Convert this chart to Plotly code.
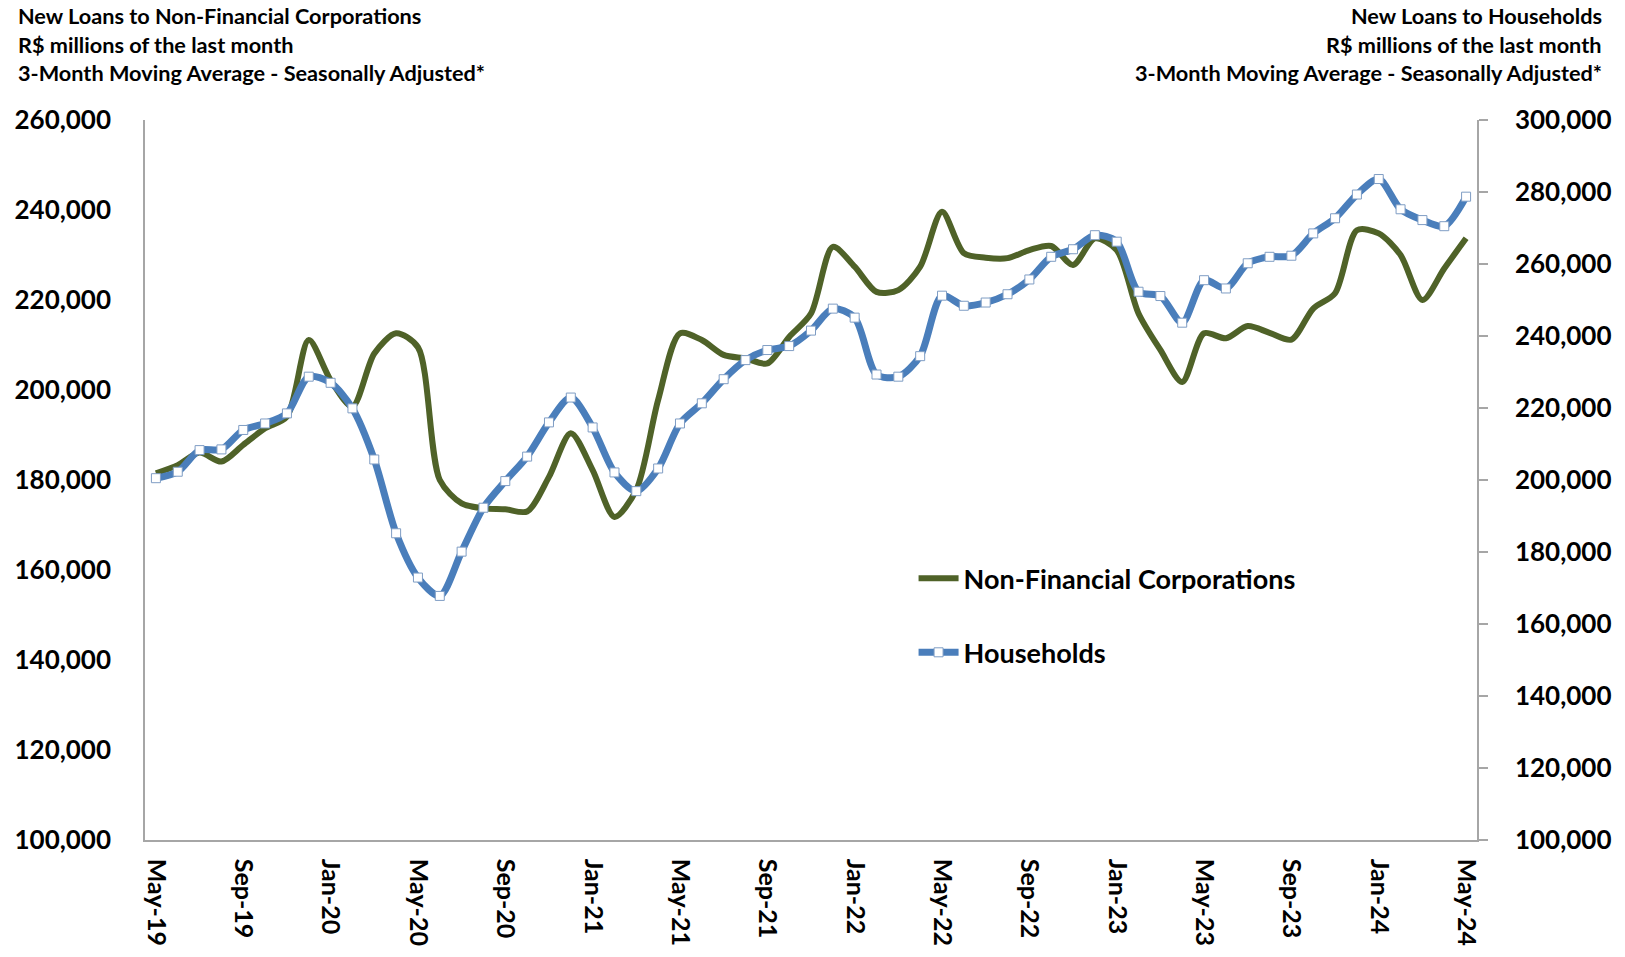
import pandas as pd
import plotly.graph_objects as go

# Monthly categories, May-2019 .. May-2024
months = pd.date_range("2019-05-01", "2024-05-01", freq="MS").strftime("%b-%y").tolist()

# New loans to non-financial corporations (R$ millions, 3MMA SA) - left axis
nfc = [
    181500, 183300, 186100, 184100, 187800, 191500, 194100, 211100,
    202200, 196300, 208100, 212600, 209500, 180000, 174800, 173700, 173500, 173000, 180700, 190400,
    182200, 171800, 177800, 197800, 212600, 211100, 207800, 207000, 205900, 211800, 217000, 231800,
    227400, 221800, 222200, 227400, 239600, 230400, 229400, 229300, 231100, 232000, 227800, 233700,
    231100, 217000, 208900, 201800, 212600, 211500, 214200, 212700, 211200, 218100, 221500, 235500,
    234800, 230000, 220000, 227000, 233700,
]

# New loans to households (R$ millions, 3MMA SA) - right axis
households = [
    200500, 202300, 208300, 208500, 213900, 215700, 218500, 228700,
    227000, 219900, 205700, 185200, 172900, 167800, 180100, 192300, 199700, 206500, 216000, 222900,
    214600, 202100, 196900, 203200, 215700, 221300, 228000, 233300, 236100, 237200, 241500, 247600,
    245100, 229300, 228700, 234400, 251200, 248400, 249300, 251600, 255700, 262000, 264100, 268000,
    266200, 252300, 251100, 243700, 255500, 253200, 260200, 262000, 262300, 268500, 272700, 279300,
    283600, 275200, 272200, 270500, 278700,
]

left_ticks = list(range(100000, 260001, 20000))
right_ticks = list(range(100000, 300001, 20000))
x_ticks = months[::4]

FONT = "Lato"
AXIS_GREY = "#A6A6A6"

fig = go.Figure()
fig.add_trace(go.Scatter(
    x=months, y=nfc, name="Non-Financial Corporations", mode="lines",
    line=dict(color="#4F6228", width=6, shape="spline", smoothing=0.8),
    legendgroup="nfc", yaxis="y",
))
fig.add_trace(go.Scatter(
    x=months, y=households, name="Households", mode="lines+markers",
    line=dict(color="#4A7EBB", width=7, shape="spline", smoothing=0.8),
    marker=dict(symbol="square", size=9, color="white",
                line=dict(color="#7F9DC4", width=1)),
    legendgroup="hh", yaxis="y2",
))

fig.update_layout(
    width=1625, height=957,
    margin=dict(l=145, r=148, t=120, b=117),
    paper_bgcolor="white", plot_bgcolor="white",
    font=dict(family=FONT, color="#000000"),
    showlegend=True,
    legend=dict(
        x=0.577, y=0.397, xanchor="left", yanchor="top",
        font=dict(family=FONT, size=27, color="#000000", weight="bold"),
        bgcolor="rgba(0,0,0,0)", tracegroupgap=36,
        itemwidth=40,
    ),
    xaxis=dict(
        type="category", tickmode="array", tickvals=x_ticks, ticktext=x_ticks,
        tickangle=90, showgrid=False, showline=True, linecolor=AXIS_GREY, linewidth=1.5,
        ticks="", ticklabelstandoff=12,
        tickfont=dict(family=FONT, size=25, color="#000000", weight="bold"),
        range=[-0.5, len(months) - 0.5], mirror=False,
    ),
    yaxis=dict(
        range=[100000, 260000], tickvals=left_ticks, tickformat=",",
        showgrid=False, zeroline=False, showline=True, linecolor=AXIS_GREY, linewidth=1.5,
        ticks="", ticklabelstandoff=27,
        tickfont=dict(family=FONT, size=26, color="#000000", weight="bold"),
    ),
    yaxis2=dict(
        range=[100000, 300000], tickvals=right_ticks, tickformat=",",
        overlaying="y", side="right",
        showgrid=False, zeroline=False, showline=True, linecolor=AXIS_GREY, linewidth=1.5,
        ticks="outside", ticklen=9, tickcolor=AXIS_GREY, tickwidth=1.5,
        ticklabelstandoff=22,
        tickfont=dict(family=FONT, size=26, color="#000000", weight="bold"),
    ),
)

left_title = ["New Loans to Non-Financial Corporations",
              "R$ millions of the last month",
              "3-Month Moving Average - Seasonally Adjusted*"]
right_title = ["New Loans to Households",
               "R$ millions of the last month",
               "3-Month Moving Average - Seasonally Adjusted*"]
line_y = [16, 45, 73]
for text, yy in zip(left_title, line_y):
    fig.add_annotation(text=text, xref="paper", yref="paper",
                       x=-129 / 1332, y=1 + (120 - yy) / 720,
                       xanchor="left", yanchor="middle", showarrow=False,
                       font=dict(family=FONT, size=21.7, color="#000000", weight="bold"))
for text, yy in zip(right_title, line_y):
    fig.add_annotation(text=text, xref="paper", yref="paper",
                       x=1 + (1604 - 1477) / 1332, y=1 + (120 - yy) / 720,
                       xanchor="right", yanchor="middle", showarrow=False,
                       font=dict(family=FONT, size=21.7, color="#000000", weight="bold"))

fig.write_html("out.html")
